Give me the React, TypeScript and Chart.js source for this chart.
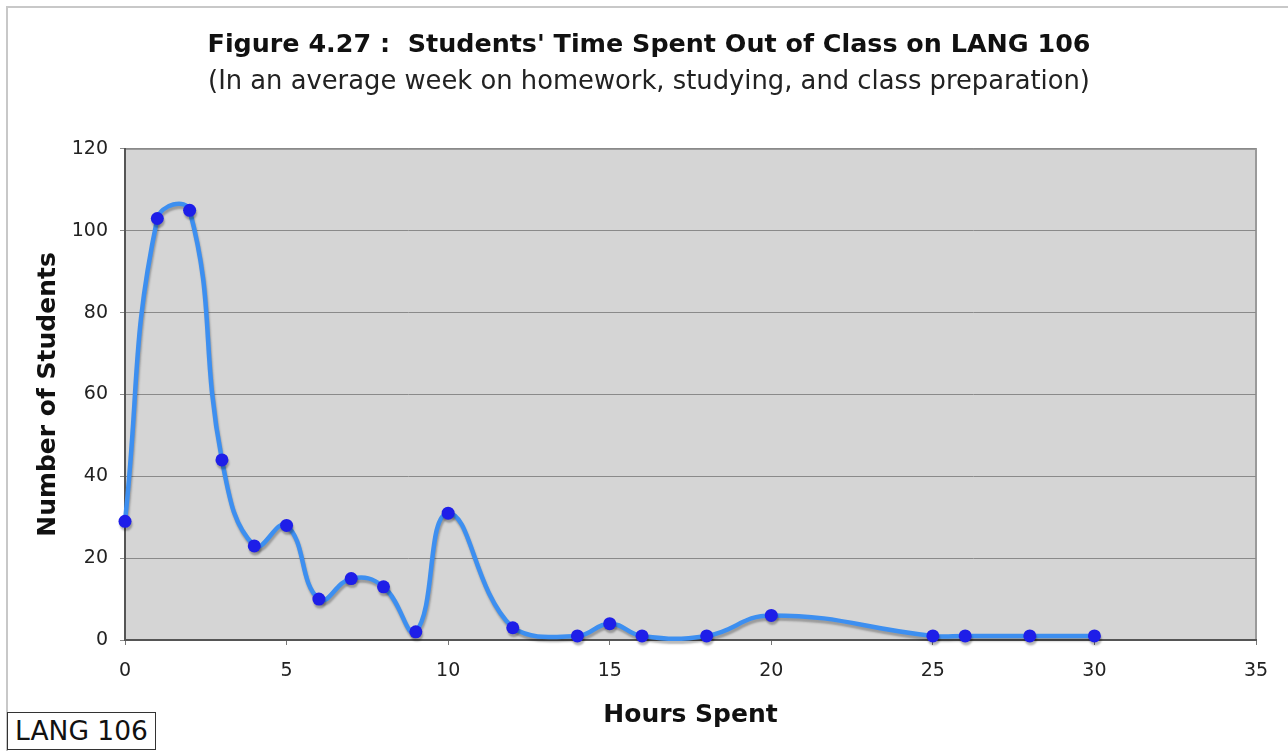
import React, { useEffect, useRef } from "react";
import { Chart, registerables } from "chart.js";

Chart.register(...registerables);

const hours = [0, 1, 2, 3, 4, 5, 6, 7, 8, 9, 10, 12, 14, 15, 16, 18, 20, 25, 26, 28, 30];
const students = [29, 103, 105, 44, 23, 28, 10, 15, 13, 2, 31, 3, 1, 4, 1, 1, 6, 1, 1, 1, 1];
const titleText = "Figure 4.27 :  Students' Time Spent Out of Class on LANG 106";
const subtitleText = "(In an average week on homework, studying, and class preparation)";
const xAxisTitle = "Hours Spent";
const yAxisTitle = "Number of Students";
const boxLabel = "LANG 106";
const xRange = [0, 35];
const yRange = [0, 120];
const xStep = 5;
const yStep = 20;

const FONT = "'DejaVu Sans', Verdana, sans-serif";

const framePlugin = {
  id: "framePlugin",
  beforeDraw(chart: any) {
    const { ctx, chartArea, width, height } = chart;
    ctx.save();
    ctx.fillStyle = "#ffffff";
    ctx.fillRect(0, 0, width, height);
    ctx.strokeStyle = "#c8c8c8";
    ctx.lineWidth = 2;
    ctx.beginPath();
    ctx.moveTo(7, height);
    ctx.lineTo(7, 7);
    ctx.lineTo(width, 7);
    ctx.stroke();
    ctx.fillStyle = "#d5d5d5";
    ctx.fillRect(chartArea.left, chartArea.top, chartArea.right - chartArea.left, chartArea.bottom - chartArea.top);
    ctx.strokeStyle = "#9a9a9a";
    ctx.lineWidth = 2;
    ctx.beginPath();
    ctx.moveTo(chartArea.left, chartArea.top);
    ctx.lineTo(chartArea.right, chartArea.top);
    ctx.lineTo(chartArea.right, chartArea.bottom);
    ctx.stroke();
    ctx.restore();
  },
  beforeDatasetDraw(chart: any) {
    const ctx = chart.ctx;
    ctx.save();
    ctx.shadowColor = "rgba(0,0,0,0.28)";
    ctx.shadowOffsetX = 1;
    ctx.shadowOffsetY = 3;
    ctx.shadowBlur = 2;
  },
  afterDatasetDraw(chart: any) {
    chart.ctx.restore();
  },
};

export default function App() {
  const canvasRef = useRef<HTMLCanvasElement | null>(null);

  useEffect(() => {
    if (!canvasRef.current) return;
    const points = hours.map((h, i) => ({ x: h, y: students[i] }));
    const chart = new Chart(canvasRef.current, {
      type: "line",
      data: {
        datasets: [
          {
            data: points,
            borderColor: "#3d8ff0",
            borderWidth: 4.5,
            tension: 0.45,
            pointRadius: 6.5,
            pointBackgroundColor: "#1e1ee8",
            pointBorderColor: "#1e1ee8",
            pointBorderWidth: 0,
            fill: false,
            clip: 8,
          },
        ],
      },
      options: {
        responsive: false,
        animation: false,
        devicePixelRatio: 1,
        layout: { padding: { top: 30, left: 42, right: 32, bottom: 0 } },
        plugins: {
          legend: { display: false },
          tooltip: { enabled: false },
          title: {
            display: true,
            text: titleText,
            color: "#111111",
            font: { family: FONT, size: 25.4, weight: "bold", lineHeight: 1.2 },
            padding: { top: 0, bottom: 6 },
          },
          subtitle: {
            display: true,
            text: subtitleText,
            color: "#222222",
            font: { family: FONT, size: 25.8, lineHeight: 1.2 },
            padding: { top: 0, bottom: 51.5 },
          },
        },
        scales: {
          x: {
            type: "linear",
            min: xRange[0],
            max: xRange[1],
            ticks: { stepSize: xStep, padding: 15, color: "#222222", font: { family: FONT, size: 19 } },
            grid: { drawOnChartArea: false, drawTicks: true, tickLength: 5, color: "#777777" },
            border: { display: true, color: "#555555", width: 2 },
            title: {
              display: true,
              text: xAxisTitle,
              color: "#111111",
              font: { family: FONT, size: 25, weight: "bold", lineHeight: 1.2 },
              padding: { top: 0, bottom: 21 },
            },
            afterFit: (s: any) => {
              s.height = 111;
            },
          },
          y: {
            min: yRange[0],
            max: yRange[1],
            ticks: { stepSize: yStep, padding: 12, color: "#222222", font: { family: FONT, size: 19 } },
            grid: { color: "#8a8a8a", tickLength: 5, lineWidth: 1 },
            border: { display: true, color: "#555555", width: 2 },
            title: {
              display: true,
              text: yAxisTitle,
              color: "#111111",
              font: { family: FONT, size: 25, weight: "bold", lineHeight: 1.2 },
              padding: { top: -9, bottom: 0 },
            },
            afterFit: (s: any) => {
              s.width = 83;
            },
          },
        },
      },
      plugins: [framePlugin],
    });
    return () => chart.destroy();
  }, []);

  return (
    <div style={{ position: "absolute", left: 0, top: 0, width: 1288, height: 751, background: "#fff" }}>
      <canvas ref={canvasRef} width={1288} height={751} style={{ display: "block", width: 1288, height: 751 }} />
      <div
        style={{
          position: "absolute",
          left: 7,
          top: 712,
          width: 147,
          height: 36,
          border: "1px solid #333",
          background: "#fff",
          fontFamily: FONT,
          fontSize: 26.5,
          lineHeight: "36px",
          color: "#111",
          textAlign: "center",
          boxSizing: "content-box",
        }}
      >
        {boxLabel}
      </div>
    </div>
  );
}
